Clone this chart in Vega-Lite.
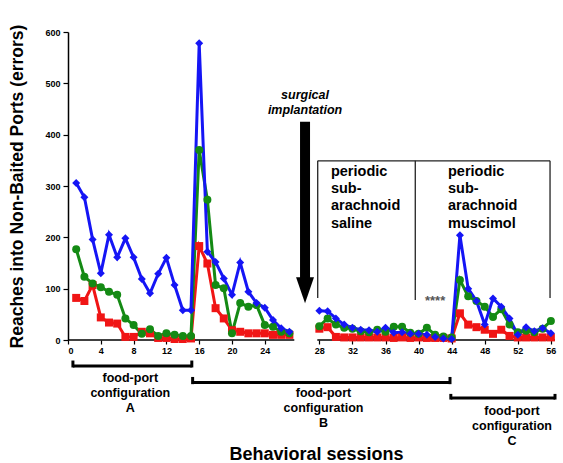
{
"$schema": "https://vega.github.io/schema/vega-lite/v6.json",
"width": 487, "height": 308,
"autosize": {"type": "none"},
"padding": {"left": 68, "top": 32, "right": 8, "bottom": 123},
"background": "white",
"config": {"view": {"stroke": null}, "font": "Liberation Sans"},
"datasets": {
"series": [
{"session":1,"monkey":"monkey 1","phase":"pre","errors":82},{"session":2,"monkey":"monkey 1","phase":"pre","errors":76},{"session":3,"monkey":"monkey 1","phase":"pre","errors":107},{"session":4,"monkey":"monkey 1","phase":"pre","errors":44},{"session":5,"monkey":"monkey 1","phase":"pre","errors":34},{"session":6,"monkey":"monkey 1","phase":"pre","errors":32},{"session":7,"monkey":"monkey 1","phase":"pre","errors":6},{"session":8,"monkey":"monkey 1","phase":"pre","errors":6},{"session":9,"monkey":"monkey 1","phase":"pre","errors":16},{"session":10,"monkey":"monkey 1","phase":"pre","errors":13},{"session":11,"monkey":"monkey 1","phase":"pre","errors":4},{"session":12,"monkey":"monkey 1","phase":"pre","errors":4},{"session":13,"monkey":"monkey 1","phase":"pre","errors":2},{"session":14,"monkey":"monkey 1","phase":"pre","errors":2},{"session":15,"monkey":"monkey 1","phase":"pre","errors":3},{"session":16,"monkey":"monkey 1","phase":"pre","errors":183},{"session":17,"monkey":"monkey 1","phase":"pre","errors":149},{"session":18,"monkey":"monkey 1","phase":"pre","errors":62},{"session":19,"monkey":"monkey 1","phase":"pre","errors":42},{"session":20,"monkey":"monkey 1","phase":"pre","errors":19},{"session":21,"monkey":"monkey 1","phase":"pre","errors":16},{"session":22,"monkey":"monkey 1","phase":"pre","errors":13},{"session":23,"monkey":"monkey 1","phase":"pre","errors":13},{"session":24,"monkey":"monkey 1","phase":"pre","errors":13},{"session":25,"monkey":"monkey 1","phase":"pre","errors":10},{"session":26,"monkey":"monkey 1","phase":"pre","errors":10},{"session":27,"monkey":"monkey 1","phase":"pre","errors":10},{"session":28,"monkey":"monkey 1","phase":"post","errors":22},{"session":29,"monkey":"monkey 1","phase":"post","errors":25},{"session":30,"monkey":"monkey 1","phase":"post","errors":6},{"session":31,"monkey":"monkey 1","phase":"post","errors":5},{"session":32,"monkey":"monkey 1","phase":"post","errors":5},{"session":33,"monkey":"monkey 1","phase":"post","errors":5},{"session":34,"monkey":"monkey 1","phase":"post","errors":5},{"session":35,"monkey":"monkey 1","phase":"post","errors":5},{"session":36,"monkey":"monkey 1","phase":"post","errors":5},{"session":37,"monkey":"monkey 1","phase":"post","errors":4},{"session":38,"monkey":"monkey 1","phase":"post","errors":5},{"session":39,"monkey":"monkey 1","phase":"post","errors":4},{"session":40,"monkey":"monkey 1","phase":"post","errors":5},{"session":41,"monkey":"monkey 1","phase":"post","errors":4},{"session":42,"monkey":"monkey 1","phase":"post","errors":4},{"session":43,"monkey":"monkey 1","phase":"post","errors":4},{"session":44,"monkey":"monkey 1","phase":"post","errors":3},{"session":45,"monkey":"monkey 1","phase":"post","errors":52},{"session":46,"monkey":"monkey 1","phase":"post","errors":30},{"session":47,"monkey":"monkey 1","phase":"post","errors":25},{"session":48,"monkey":"monkey 1","phase":"post","errors":20},{"session":49,"monkey":"monkey 1","phase":"post","errors":12},{"session":50,"monkey":"monkey 1","phase":"post","errors":20},{"session":51,"monkey":"monkey 1","phase":"post","errors":8},{"session":52,"monkey":"monkey 1","phase":"post","errors":5},{"session":53,"monkey":"monkey 1","phase":"post","errors":5},{"session":54,"monkey":"monkey 1","phase":"post","errors":5},{"session":55,"monkey":"monkey 1","phase":"post","errors":5},{"session":56,"monkey":"monkey 1","phase":"post","errors":5},
{"session":1,"monkey":"monkey 2","phase":"pre","errors":177},{"session":2,"monkey":"monkey 2","phase":"pre","errors":123},{"session":3,"monkey":"monkey 2","phase":"pre","errors":110},{"session":4,"monkey":"monkey 2","phase":"pre","errors":103},{"session":5,"monkey":"monkey 2","phase":"pre","errors":94},{"session":6,"monkey":"monkey 2","phase":"pre","errors":88},{"session":7,"monkey":"monkey 2","phase":"pre","errors":42},{"session":8,"monkey":"monkey 2","phase":"pre","errors":29},{"session":9,"monkey":"monkey 2","phase":"pre","errors":12},{"session":10,"monkey":"monkey 2","phase":"pre","errors":21},{"session":11,"monkey":"monkey 2","phase":"pre","errors":8},{"session":12,"monkey":"monkey 2","phase":"pre","errors":13},{"session":13,"monkey":"monkey 2","phase":"pre","errors":10},{"session":14,"monkey":"monkey 2","phase":"pre","errors":8},{"session":15,"monkey":"monkey 2","phase":"pre","errors":8},{"session":16,"monkey":"monkey 2","phase":"pre","errors":370},{"session":17,"monkey":"monkey 2","phase":"pre","errors":273},{"session":18,"monkey":"monkey 2","phase":"pre","errors":107},{"session":19,"monkey":"monkey 2","phase":"pre","errors":101},{"session":20,"monkey":"monkey 2","phase":"pre","errors":13},{"session":21,"monkey":"monkey 2","phase":"pre","errors":72},{"session":22,"monkey":"monkey 2","phase":"pre","errors":65},{"session":23,"monkey":"monkey 2","phase":"pre","errors":68},{"session":24,"monkey":"monkey 2","phase":"pre","errors":29},{"session":25,"monkey":"monkey 2","phase":"pre","errors":26},{"session":26,"monkey":"monkey 2","phase":"pre","errors":16},{"session":27,"monkey":"monkey 2","phase":"pre","errors":13},{"session":28,"monkey":"monkey 2","phase":"post","errors":27},{"session":29,"monkey":"monkey 2","phase":"post","errors":42},{"session":30,"monkey":"monkey 2","phase":"post","errors":30},{"session":31,"monkey":"monkey 2","phase":"post","errors":24},{"session":32,"monkey":"monkey 2","phase":"post","errors":22},{"session":33,"monkey":"monkey 2","phase":"post","errors":17},{"session":34,"monkey":"monkey 2","phase":"post","errors":15},{"session":35,"monkey":"monkey 2","phase":"post","errors":20},{"session":36,"monkey":"monkey 2","phase":"post","errors":16},{"session":37,"monkey":"monkey 2","phase":"post","errors":26},{"session":38,"monkey":"monkey 2","phase":"post","errors":26},{"session":39,"monkey":"monkey 2","phase":"post","errors":14},{"session":40,"monkey":"monkey 2","phase":"post","errors":12},{"session":41,"monkey":"monkey 2","phase":"post","errors":24},{"session":42,"monkey":"monkey 2","phase":"post","errors":10},{"session":43,"monkey":"monkey 2","phase":"post","errors":7},{"session":44,"monkey":"monkey 2","phase":"post","errors":5},{"session":45,"monkey":"monkey 2","phase":"post","errors":117},{"session":46,"monkey":"monkey 2","phase":"post","errors":85},{"session":47,"monkey":"monkey 2","phase":"post","errors":76},{"session":48,"monkey":"monkey 2","phase":"post","errors":65},{"session":49,"monkey":"monkey 2","phase":"post","errors":45},{"session":50,"monkey":"monkey 2","phase":"post","errors":60},{"session":51,"monkey":"monkey 2","phase":"post","errors":30},{"session":52,"monkey":"monkey 2","phase":"post","errors":15},{"session":53,"monkey":"monkey 2","phase":"post","errors":18},{"session":54,"monkey":"monkey 2","phase":"post","errors":15},{"session":55,"monkey":"monkey 2","phase":"post","errors":22},{"session":56,"monkey":"monkey 2","phase":"post","errors":37},
{"session":1,"monkey":"monkey 3","phase":"pre","errors":306},{"session":2,"monkey":"monkey 3","phase":"pre","errors":278},{"session":3,"monkey":"monkey 3","phase":"pre","errors":196},{"session":4,"monkey":"monkey 3","phase":"pre","errors":130},{"session":5,"monkey":"monkey 3","phase":"pre","errors":205},{"session":6,"monkey":"monkey 3","phase":"pre","errors":161},{"session":7,"monkey":"monkey 3","phase":"pre","errors":198},{"session":8,"monkey":"monkey 3","phase":"pre","errors":161},{"session":9,"monkey":"monkey 3","phase":"pre","errors":119},{"session":10,"monkey":"monkey 3","phase":"pre","errors":91},{"session":11,"monkey":"monkey 3","phase":"pre","errors":129},{"session":12,"monkey":"monkey 3","phase":"pre","errors":160},{"session":13,"monkey":"monkey 3","phase":"pre","errors":107},{"session":14,"monkey":"monkey 3","phase":"pre","errors":58},{"session":15,"monkey":"monkey 3","phase":"pre","errors":58},{"session":16,"monkey":"monkey 3","phase":"pre","errors":578},{"session":17,"monkey":"monkey 3","phase":"pre","errors":172},{"session":18,"monkey":"monkey 3","phase":"pre","errors":152},{"session":19,"monkey":"monkey 3","phase":"pre","errors":120},{"session":20,"monkey":"monkey 3","phase":"pre","errors":88},{"session":21,"monkey":"monkey 3","phase":"pre","errors":151},{"session":22,"monkey":"monkey 3","phase":"pre","errors":94},{"session":23,"monkey":"monkey 3","phase":"pre","errors":72},{"session":24,"monkey":"monkey 3","phase":"pre","errors":63},{"session":25,"monkey":"monkey 3","phase":"pre","errors":39},{"session":26,"monkey":"monkey 3","phase":"pre","errors":23},{"session":27,"monkey":"monkey 3","phase":"pre","errors":16},{"session":28,"monkey":"monkey 3","phase":"post","errors":57},{"session":29,"monkey":"monkey 3","phase":"post","errors":56},{"session":30,"monkey":"monkey 3","phase":"post","errors":42},{"session":31,"monkey":"monkey 3","phase":"post","errors":30},{"session":32,"monkey":"monkey 3","phase":"post","errors":24},{"session":33,"monkey":"monkey 3","phase":"post","errors":20},{"session":34,"monkey":"monkey 3","phase":"post","errors":19},{"session":35,"monkey":"monkey 3","phase":"post","errors":16},{"session":36,"monkey":"monkey 3","phase":"post","errors":24},{"session":37,"monkey":"monkey 3","phase":"post","errors":14},{"session":38,"monkey":"monkey 3","phase":"post","errors":15},{"session":39,"monkey":"monkey 3","phase":"post","errors":12},{"session":40,"monkey":"monkey 3","phase":"post","errors":12},{"session":41,"monkey":"monkey 3","phase":"post","errors":10},{"session":42,"monkey":"monkey 3","phase":"post","errors":6},{"session":43,"monkey":"monkey 3","phase":"post","errors":3},{"session":44,"monkey":"monkey 3","phase":"post","errors":2},{"session":45,"monkey":"monkey 3","phase":"post","errors":204},{"session":46,"monkey":"monkey 3","phase":"post","errors":100},{"session":47,"monkey":"monkey 3","phase":"post","errors":76},{"session":48,"monkey":"monkey 3","phase":"post","errors":30},{"session":49,"monkey":"monkey 3","phase":"post","errors":81},{"session":50,"monkey":"monkey 3","phase":"post","errors":65},{"session":51,"monkey":"monkey 3","phase":"post","errors":42},{"session":52,"monkey":"monkey 3","phase":"post","errors":10},{"session":53,"monkey":"monkey 3","phase":"post","errors":25},{"session":54,"monkey":"monkey 3","phase":"post","errors":17},{"session":55,"monkey":"monkey 3","phase":"post","errors":23},{"session":56,"monkey":"monkey 3","phase":"post","errors":13}
],
"key": [{"monkey":"monkey 1","errors":629},{"monkey":"monkey 2","errors":586},{"monkey":"monkey 3","errors":543}],
"axisline": [{"session":0,"session2":27.6,"errors":0},{"session":27.75,"session2":56.5,"errors":0}],
"boxh": [{"session":27.8,"session2":55.9,"errors":349}],
"boxv": [{"session":27.8,"errors":82,"errors2":349},{"session":39.6,"errors":78,"errors2":349},{"session":55.9,"errors":82,"errors2":349}],
"brackh": [{"session":0.6,"session2":15.1,"errors":-50.6},{"session":15.2,"session2":43.8,"errors":-83},{"session":43.9,"session2":56.5,"errors":-113}],
"brackv": [{"session":0.6,"errors":-53.5,"errors2":-40},{"session":15.1,"errors":-53.5,"errors2":-40},{"session":15.2,"errors":-86,"errors2":-72},{"session":43.8,"errors":-86,"errors2":-72},{"session":43.9,"errors":-116,"errors2":-105},{"session":56.5,"errors":-116,"errors2":-105}],
"shaft": [{"session":27.67,"errors":425,"errors2":118}],
"head": [{"session":27.67,"errors":97}],
"surgery": [{"session":27.67,"errors":477,"label":"surgical\nimplantation"}],
"treat": [{"session":29.4,"errors":328,"label":"periodic\nsub-\narachnoid\nsaline"},{"session":43.56,"errors":328,"label":"periodic\nsub-\narachnoid\nmuscimol"}],
"portlabels": [{"session":7.6,"errors":-74,"label":"food-port\nconfiguration\nA"},{"session":28.5,"errors":-103,"label":"food-port\nconfiguration\nB"},{"session":51.3,"errors":-138,"label":"food-port\nconfiguration\nC"}],
"stars": [{"session":42,"errors":76,"label":"****"}]
},
"encoding": {
"x": {"field": "session", "type": "quantitative",
 "scale": {"domain": [0, 27.6, 27.75, 56.5], "range": [0, 226.3, 249.3, 487], "nice": false, "zero": false},
 "axis": {"values": [0,4,8,12,16,20,24,28,32,36,40,44,48,52,56], "domain": false, "grid": false, "tickSize": 4, "tickColor": "black", "tickWidth": 1.2, "labelFontSize": 9, "labelFontWeight": "bold", "labelColor": "black", "labelPadding": 2, "title": "Behavioral sessions", "titleFontSize": 18, "titleFontWeight": "bold", "titleColor": "black", "titlePadding": 90, "titleX": 248}},
"y": {"field": "errors", "type": "quantitative",
 "scale": {"domain": [0, 600], "nice": false},
 "axis": {"values": [0,100,200,300,400,500,600], "grid": false, "domainColor": "black", "domainWidth": 1.5, "tickSize": 5, "tickColor": "black", "tickWidth": 1.2, "labelFontSize": 9, "labelFontWeight": "bold", "labelColor": "black", "labelPadding": 3, "title": "Reaches into Non-Baited Ports (errors)", "titleFontSize": 17.5, "titleFontWeight": "bold", "titleColor": "black", "titlePadding": 18}}
},
"layer": [
{"data": {"name": "key"}, "mark": {"type": "rule", "strokeWidth": 3, "clip": false},
 "encoding": {"x": {"datum": 48.0}, "x2": {"datum": 50.7},
  "stroke": {"field": "monkey", "type": "nominal", "scale": {"domain": ["monkey 1","monkey 2","monkey 3"], "range": ["#f01515","#148a14","#1515f5"]}, "legend": null}}},
{"data": {"name": "key"}, "mark": {"type": "point", "filled": true, "opacity": 1, "size": 64, "clip": false},
 "encoding": {"x": {"datum": 49.36},
  "color": {"field": "monkey", "type": "nominal", "scale": {"domain": ["monkey 1","monkey 2","monkey 3"], "range": ["#f01515","#148a14","#1515f5"]}, "legend": null},
  "shape": {"field": "monkey", "type": "nominal", "scale": {"domain": ["monkey 1","monkey 2","monkey 3"], "range": ["square","circle","diamond"]}, "legend": null}}},
{"data": {"name": "key"}, "mark": {"type": "text", "fontSize": 10, "fontWeight": "bold", "align": "left", "baseline": "middle", "color": "black", "clip": false},
 "encoding": {"x": {"datum": 51.8}, "text": {"field": "monkey"}}},
{"data": {"name": "axisline"}, "mark": {"type": "rule", "color": "black", "strokeWidth": 1.5, "clip": false}, "encoding": {"x2": {"field": "session2"}}},
{"data": {"name": "boxh"}, "mark": {"type": "rule", "color": "#222", "strokeWidth": 1.3, "clip": false}, "encoding": {"x2": {"field": "session2"}}},
{"data": {"name": "boxv"}, "mark": {"type": "rule", "color": "#222", "strokeWidth": 1.3, "clip": false}, "encoding": {"y2": {"field": "errors2"}}},
{"data": {"name": "brackh"}, "mark": {"type": "rule", "color": "black", "strokeWidth": 3, "clip": false}, "encoding": {"x2": {"field": "session2"}}},
{"data": {"name": "brackv"}, "mark": {"type": "rule", "color": "black", "strokeWidth": 3, "clip": false}, "encoding": {"y2": {"field": "errors2"}}},
{"data": {"name": "shaft"}, "mark": {"type": "rule", "color": "black", "strokeWidth": 10, "clip": false}, "encoding": {"y2": {"field": "errors2"}}},
{"data": {"name": "head"}, "mark": {"type": "point", "filled": true, "opacity": 1, "color": "black", "shape": "M-0.69,-1L0.69,-1L0,1Z", "size": 676, "clip": false}},
{"data": {"name": "surgery"}, "mark": {"type": "text", "lineBreak": "\n", "fontSize": 12.5, "fontWeight": "bold", "fontStyle": "italic", "lineHeight": 15, "align": "center", "baseline": "middle", "color": "black", "clip": false}, "encoding": {"text": {"field": "label"}}},
{"data": {"name": "treat"}, "mark": {"type": "text", "lineBreak": "\n", "fontSize": 14.5, "fontWeight": "bold", "lineHeight": 17.3, "align": "left", "baseline": "middle", "color": "black", "clip": false}, "encoding": {"text": {"field": "label"}}},
{"data": {"name": "portlabels"}, "mark": {"type": "text", "lineBreak": "\n", "fontSize": 12.5, "fontWeight": "bold", "lineHeight": 15, "align": "center", "baseline": "middle", "color": "black", "clip": false}, "encoding": {"text": {"field": "label"}}},
{"data": {"name": "stars"}, "mark": {"type": "text", "fontSize": 13, "fontWeight": "bold", "align": "center", "baseline": "middle", "color": "#555", "clip": false}, "encoding": {"text": {"field": "label"}}},
{"data": {"name": "series"}, "mark": {"type": "line", "strokeWidth": 3, "clip": false},
 "encoding": {"stroke": {"field": "monkey", "type": "nominal", "scale": {"domain": ["monkey 1","monkey 2","monkey 3"], "range": ["#f01515","#148a14","#1515f5"]}, "legend": null},
  "detail": {"field": "phase", "type": "nominal"}}},
{"data": {"name": "series"}, "mark": {"type": "point", "filled": true, "opacity": 1, "size": 64, "clip": false},
 "encoding": {
  "color": {"field": "monkey", "type": "nominal", "scale": {"domain": ["monkey 1","monkey 2","monkey 3"], "range": ["#f01515","#148a14","#1515f5"]}, "legend": null},
  "shape": {"field": "monkey", "type": "nominal", "scale": {"domain": ["monkey 1","monkey 2","monkey 3"], "range": ["square","circle","diamond"]}, "legend": null}
 }}
]
}
